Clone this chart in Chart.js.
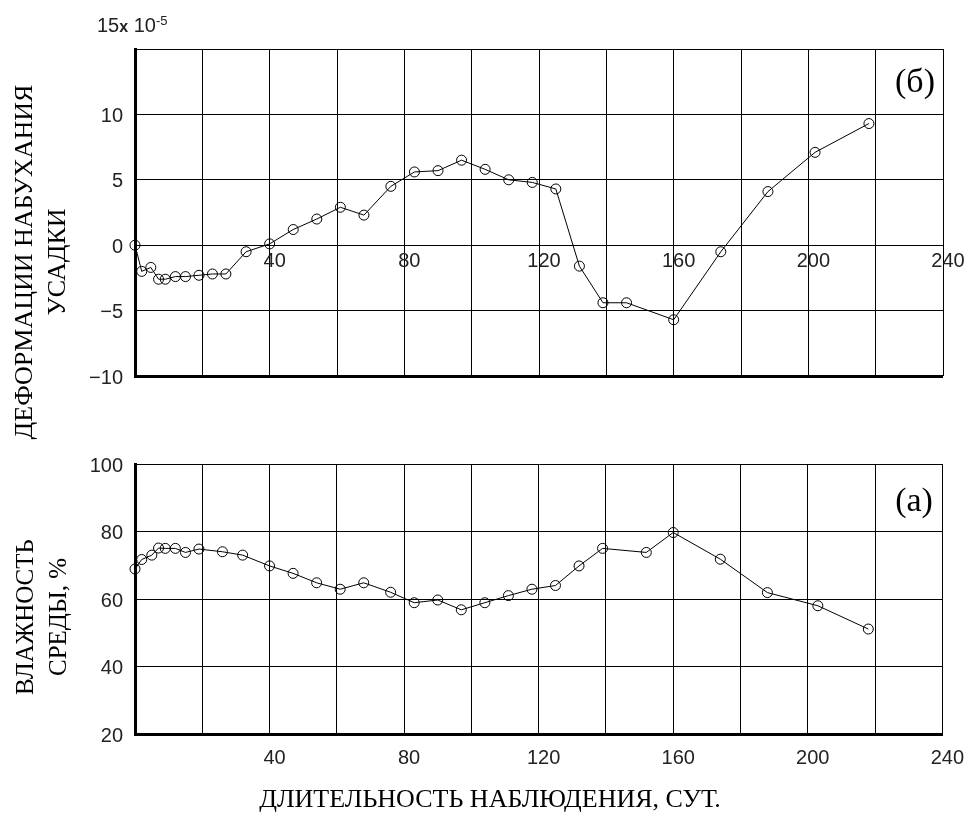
<!DOCTYPE html>
<html><head><meta charset="utf-8">
<script src="https://cdn.jsdelivr.net/npm/chart.js@4/dist/chart.umd.min.js"></script>
<style>
html,body{margin:0;padding:0;background:#fff;}
#wrap{position:relative;width:971px;height:817px;overflow:hidden;background:#fff;}
canvas{position:absolute;left:0;}
.t{position:absolute;font-family:"Liberation Serif","Times New Roman",serif;color:#000;white-space:nowrap;line-height:1;}
.rot{transform:translate(-50%,-50%) rotate(-90deg);}
.ctr{transform:translate(-50%,-50%);}
.s{position:absolute;font-family:"Liberation Sans",Arial,sans-serif;color:#222;white-space:nowrap;line-height:1;}
</style></head><body>
<div id="wrap">
<canvas id="c1" width="971" height="400" style="top:0;width:971px;height:400px"></canvas>
<canvas id="c2" width="971" height="377" style="top:440px;width:971px;height:377px"></canvas>
<div class="t rot" style="left:24px;top:262px;font-size:26px">ДЕФОРМАЦИИ НАБУХАНИЯ</div>
<div class="t rot" style="left:57px;top:262px;font-size:26px">УСАДКИ</div>
<div class="t rot" style="left:24px;top:617px;font-size:25px">ВЛАЖНОСТЬ</div>
<div class="t rot" style="left:57px;top:617px;font-size:25px">СРЕДЫ, %</div>
<div class="t ctr" style="left:490px;top:799px;font-size:26px">ДЛИТЕЛЬНОСТЬ НАБЛЮДЕНИЯ, СУТ.</div>
<div class="t ctr" style="left:915px;top:81px;font-size:34px">(б)</div>
<div class="t ctr" style="left:914px;top:500px;font-size:34px">(а)</div>
<div class="s" style="left:97px;top:14px;font-size:20px">15<b style="font-size:16px">x</b> 10<sup style="font-size:13px;vertical-align:7px">-5</sup></div>
</div>
<script>
// ДЕФОРМАЦИИ (×10^-5) vs days
const defDays = [0,2,4.7,7,9,12,15,19,23,27,33,40,47,54,61,68,76,83,90,97,104,111,118,125,132,139,146,160,174,188,202,218];
const defVals = [0,-2.0,-1.7,-2.6,-2.6,-2.4,-2.4,-2.3,-2.2,-2.2,-0.5,0.1,1.2,2.0,2.9,2.3,4.5,5.6,5.7,6.5,5.8,5.0,4.8,4.3,-1.6,-4.4,-4.4,-5.7,-0.5,4.1,7.1,9.3];
// ВЛАЖНОСТЬ СРЕДЫ, % vs days
const humDays = [0,2,5,7,9,12,15,19,26,32,40,47,54,61,68,76,83,90,97,104,111,118,125,132,139,152,160,174,188,203,218];
const humVals = [68.9,71.7,73,75.1,75,75,73.8,74.8,74,73,69.8,67.6,64.8,62.9,64.8,62,58.9,59.7,56.8,58.9,61,62.9,64,69.8,75,73.8,79.7,71.8,61.9,58,51.1];
const xTickLabels = [40,80,120,160,200,240];
const defTickLabels = [10,5,0,-5,-10];
const humTickLabels = [100,80,60,40,20];

const tickFont = {family:'"Liberation Sans", Arial, sans-serif', size:20};
const tickColor = '#222';
const fmt = v => v < 0 ? '\u2212' + (-v) : String(v);

function ds(xs, ys){
  return {
    data: xs.map((x,i)=>({x:x, y:ys[i]})),
    borderColor:'#000', borderWidth:1, tension:0,
    pointRadius:5, pointHoverRadius:5, pointBorderWidth:1,
    pointBorderColor:'#000', pointBackgroundColor:'rgba(0,0,0,0)',
    clip:false
  };
}
const common = {
  responsive:false, animation:false, devicePixelRatio:1,
  plugins:{legend:{display:false}, tooltip:{enabled:false}}
};

new Chart(document.getElementById('c1'), {
  type:'line',
  data:{datasets:[ds(defDays, defVals)]},
  options:Object.assign({}, common, {
    layout:{padding:{top:49,right:28,bottom:13,left:0}},
    scales:{
      x:{type:'linear', min:0, max:240, position:{y:0},
        grid:{color:'#000', lineWidth:1, drawTicks:false},
        border:{display:false},
        ticks:{stepSize:20, autoSkip:false, maxRotation:0, padding:4, labelOffset:5, color:tickColor, font:tickFont,
          callback:v => xTickLabels.includes(v) ? String(v) : ''}
      },
      y:{type:'linear', min:-10, max:15,
        grid:{color:'#000', lineWidth:c => (c.tick && c.tick.value === -10) ? 3 : 1, drawTicks:false},
        border:{display:true, width:3, color:'#000'},
        ticks:{stepSize:5, padding:12, color:tickColor, font:tickFont, labelOffset:2,
          callback:v => defTickLabels.includes(v) ? fmt(v) : ''},
        afterFit:s => { s.width = 135; }
      }
    }
  })
});

new Chart(document.getElementById('c2'), {
  type:'line',
  data:{datasets:[ds(humDays, humVals)]},
  options:Object.assign({}, common, {
    layout:{padding:{top:23,right:28,bottom:0,left:0}},
    scales:{
      x:{type:'linear', min:0, max:240, position:'bottom',
        grid:{color:'#000', lineWidth:1, drawTicks:false},
        border:{display:true, width:3, color:'#000'},
        ticks:{stepSize:20, autoSkip:false, maxRotation:0, padding:12, labelOffset:5, color:tickColor, font:tickFont,
          callback:v => xTickLabels.includes(v) ? String(v) : ''},
        afterFit:s => { s.height = 83; }
      },
      y:{type:'linear', min:20, max:100,
        grid:{color:'#000', lineWidth:1, drawTicks:false},
        border:{display:true, width:3, color:'#000'},
        ticks:{stepSize:20, padding:12, color:tickColor, font:tickFont, labelOffset:2,
          callback:v => humTickLabels.includes(v) ? String(v) : ''},
        afterFit:s => { s.width = 135; }
      }
    }
  })
});
</script>
</body></html>
